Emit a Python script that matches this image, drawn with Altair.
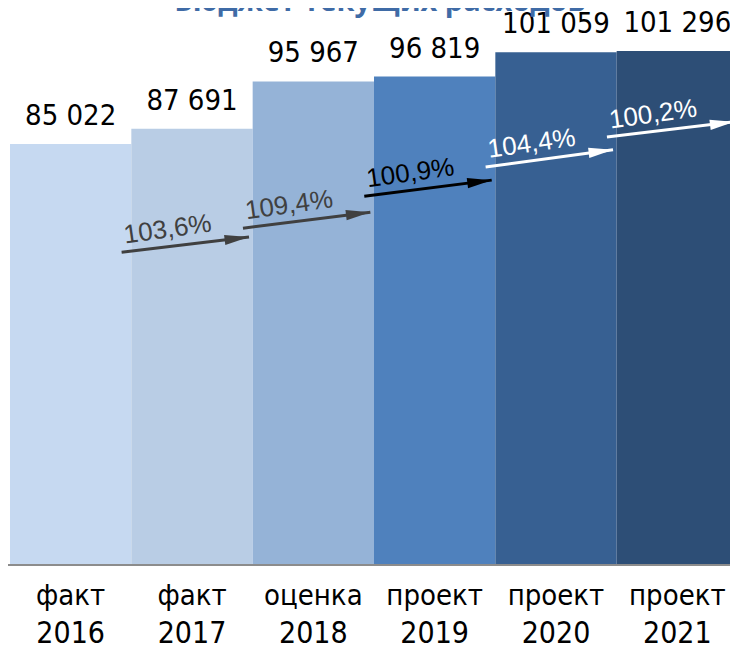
import altair as alt
import pandas as pd

# ---- data ----
stages = ["факт", "факт", "оценка", "проект", "проект", "проект"]
years = ["2016", "2017", "2018", "2019", "2020", "2021"]
values = [85022, 87691, 95967, 96819, 101059, 101296]
value_labels = ["85 022", "87 691", "95 967", "96 819", "101 059", "101 296"]
bar_colors = ["#c6d9f1", "#b9cde5", "#95b3d7", "#4f81bd", "#376092", "#2d4e76"]

growth_labels = ["103,6%", "109,4%", "100,9%", "104,4%", "100,2%"]
arrow_start_level = [66100, 70300, 75900, 81000, 86250]
arrow_end_level = [68750, 73100, 78700, 84000, 88900]
arrow_colors = ["#404040", "#404040", "#000000", "#ffffff", "#ffffff"]

title_text = "Бюджет текущих расходов"

# ---- layout ----
SVG_W, SVG_H = 722, 640
X_RANGE = [2, 730]
BASE_Y = 557
Y_MIN, Y_MAX = 11357, 108820
FONT_NUM = "DejaVu Sans Condensed"

bars = pd.DataFrame({
    "i": list(range(6)),
    "i1": [k + 1 for k in range(6)],
    "mid": [k + 0.5 for k in range(6)],
    "value": values,
    "vlabel": value_labels,
    "stage": stages,
    "year": years,
    "color": bar_colors,
})

a_x0 = [k + 0.92 for k in range(5)]
a_x1 = [k + 1.97 for k in range(5)]
arrows = pd.DataFrame({
    "x0": a_x0,
    "x1": a_x1,
    "y0": arrow_start_level,
    "y1": arrow_end_level,
    "lx": [a + 0.38 * (b - a) for a, b in zip(a_x0, a_x1)],
    "ly": [s + 0.38 * (e - s) for s, e in zip(arrow_start_level, arrow_end_level)],
    "label": growth_labels,
    "color": arrow_colors,
})

xs = alt.Scale(domain=[0, 6], range=X_RANGE, nice=False, zero=False)
ys = alt.Scale(domain=[Y_MIN, Y_MAX], range=[BASE_Y, 0], nice=False, zero=False)

base = alt.Chart(bars)

bar_layer = base.mark_bar(strokeWidth=0).encode(
    x=alt.X("i:Q", scale=xs, axis=None),
    x2="i1:Q",
    y=alt.Y("value:Q", scale=ys, axis=None),
    y2=alt.value(BASE_Y),
    color=alt.Color("color:N", scale=None),
)

value_text = base.mark_text(
    font=FONT_NUM, fontSize=29, baseline="alphabetic", dy=-19, color="#000000"
).encode(
    x=alt.X("mid:Q", scale=xs),
    y=alt.Y("value:Q", scale=ys),
    text="vlabel:N",
)

stage_text = base.mark_text(
    font=FONT_NUM, fontSize=29, baseline="alphabetic", color="#000000"
).encode(
    x=alt.X("mid:Q", scale=xs),
    y=alt.value(BASE_Y + 40),
    text="stage:N",
)

year_text = base.mark_text(
    font=FONT_NUM, fontSize=30, baseline="alphabetic", color="#000000"
).encode(
    x=alt.X("mid:Q", scale=xs),
    y=alt.value(BASE_Y + 78),
    text="year:N",
)

axis_line = alt.Chart(pd.DataFrame({"v": [Y_MIN]})).mark_rule(
    color="#8c8c8c", strokeWidth=2
).encode(
    x=alt.value(-8),
    x2=alt.value(730),
    y=alt.Y("v:Q", scale=ys),
)

arr = alt.Chart(arrows)
arrow_line = arr.mark_rule(strokeWidth=3).encode(
    x=alt.X("x0:Q", scale=xs),
    x2="x1:Q",
    y=alt.Y("y0:Q", scale=ys),
    y2="y1:Q",
    color=alt.Color("color:N", scale=None),
)
arrow_head = arr.mark_point(
    shape="M0,0 L-2,-0.42 L-2,0.42 Z", size=600, filled=True, opacity=1, angle=353, strokeWidth=0
).encode(
    x=alt.X("x1:Q", scale=xs),
    y=alt.Y("y1:Q", scale=ys),
    color=alt.Color("color:N", scale=None),
)
arrow_text = arr.mark_text(
    font="Liberation Sans", fontSize=26, angle=352, baseline="middle", dy=-17
).encode(
    x=alt.X("lx:Q", scale=xs),
    y=alt.Y("ly:Q", scale=ys),
    text="label:N",
    color=alt.Color("color:N", scale=None),
)

title_layer = alt.Chart(pd.DataFrame({"t": [title_text]})).mark_text(
    font="Open Sans", fontSize=29, fontWeight="bold", color="#3f6ba6",
    baseline="alphabetic", align="center"
).encode(
    x=alt.value(372),
    y=alt.value(3),
    text="t:N",
)

chart = alt.layer(
    bar_layer, axis_line, value_text, stage_text, year_text,
    arrow_line, arrow_head, arrow_text, title_layer
).properties(
    width=SVG_W, height=SVG_H,
    autosize=alt.AutoSizeParams(type="none"),
    padding={"left": 0, "top": 0, "right": 0, "bottom": 0},
).configure_view(stroke=None)

chart.save("out.html", embed_options={"renderer": "svg", "actions": False})
